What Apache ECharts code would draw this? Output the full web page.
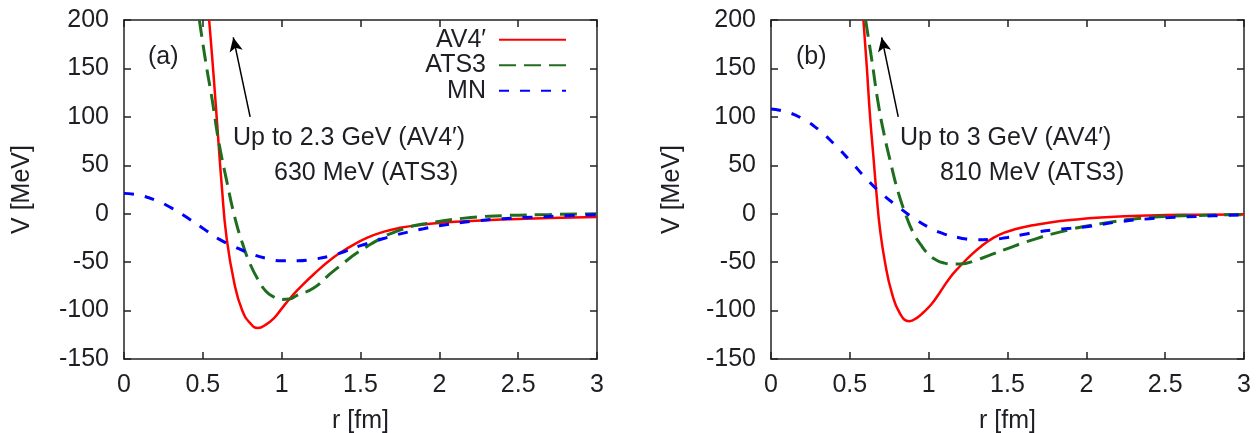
<!DOCTYPE html>
<html>
<head>
<meta charset="utf-8">
<script src="https://cdn.jsdelivr.net/npm/echarts@6/dist/echarts.min.js"></script>
<style>
html,body{margin:0;padding:0;background:#fff;}
#chart{width:1257px;height:433px;}
</style>
</head>
<body>
<div id="chart"></div>
<script>
// ---- Data ----
const xTicks = [0, 0.5, 1, 1.5, 2, 2.5, 3];
const yTicks = [-150, -100, -50, 0, 50, 100, 150, 200];
const seriesNames = ['AV4\u2032', 'ATS3', 'MN'];

// Panel (a)
const rA_AV4 = [0.54, 0.56, 0.58, 0.60, 0.62, 0.65, 0.70, 0.75, 0.80, 0.85, 0.90, 0.95, 1.00, 1.05, 1.10, 1.20, 1.33, 1.43, 1.54, 1.65, 1.75, 1.86, 1.96, 2.20, 2.40, 2.70, 3.00];
const vA_AV4 = [200, 160, 117, 72, 29, -24, -72, -100, -113, -118, -114.5, -108, -98, -88, -79, -63, -45, -34.5, -25, -18.5, -14.5, -12, -10, -7.5, -6, -4.5, -3.5];
const rA_ATS3 = [0.478, 0.52, 0.56, 0.60, 0.65, 0.70, 0.75, 0.80, 0.85, 0.90, 0.95, 1.00, 1.05, 1.10, 1.20, 1.33, 1.54, 1.75, 1.96, 2.20, 2.40, 2.70, 3.00];
const vA_ATS3 = [200, 155, 117, 75, 35, -2, -30, -52, -68, -80, -86, -88.5, -88, -84, -77, -59, -34, -17, -9, -4, -2, -0.8, 0];
const rA_MN = [0, 0.1, 0.2, 0.3, 0.4, 0.5, 0.6, 0.7, 0.8, 0.9, 1.0, 1.1, 1.2, 1.3, 1.4, 1.5, 1.6, 1.7, 1.8, 1.9, 2.0, 2.2, 2.4, 2.6, 2.8, 3.0];
const vA_MN = [21, 19, 14, 6, -4, -15, -26, -34, -41, -46, -48.5, -48.5, -47, -44, -39, -33, -28, -23, -19, -15.5, -12.5, -8, -5.2, -3.5, -2.2, -1];

// Panel (b)
const rB_AV4 = [0.586, 0.607, 0.628, 0.649, 0.670, 0.691, 0.723, 0.765, 0.818, 0.877, 0.93, 0.966, 1.02, 1.072, 1.135, 1.20, 1.26, 1.33, 1.41, 1.48, 1.56, 1.66, 1.77, 1.90, 2.09, 2.40, 2.70, 3.00];
const vB_AV4 = [200, 153, 101, 60, 19, -15.5, -50, -81, -103, -111, -107, -102, -93, -81, -66, -54, -44, -34, -25, -19.5, -15.5, -12, -9, -6.5, -4, -1.8, -1, -0.7];
const rB_ATS3 = [0.60, 0.64, 0.68, 0.72, 0.76, 0.80, 0.85, 0.90, 0.95, 1.00, 1.05, 1.10, 1.15, 1.20, 1.30, 1.40, 1.50, 1.62, 1.83, 2.09, 2.40, 2.70, 3.00];
const vB_ATS3 = [200, 158, 114, 80, 52, 26, 1, -19, -32, -42, -48, -51, -52, -52, -48, -42, -36, -29, -19, -10.3, -4, -1.8, -1];
const rB_MN = [0, 0.1, 0.2, 0.3, 0.4, 0.5, 0.6, 0.7, 0.8, 0.9, 1.0, 1.1, 1.2, 1.3, 1.4, 1.5, 1.6, 1.7, 1.8, 1.9, 2.0, 2.2, 2.4, 2.6, 2.8, 3.0];
const vB_MN = [108, 105, 98, 87, 72, 55, 37, 21, 8, -4, -14, -21, -25, -27, -26.5, -24.5, -21.5, -18.5, -16.5, -15, -13.5, -8.5, -5.2, -3.5, -2.2, -1];

// Annotation arrows (tail -> head), in data coordinates
const arrowA = [[0.80, 100], [0.693, 182]];
const arrowB = [[0.807, 100], [0.702, 182]];
const annotA = ['Up to 2.3 GeV (AV4\u2032)', '630 MeV (ATS3)', '(a)'];
const annotB = ['Up to 3 GeV (AV4\u2032)', '810 MeV (ATS3)', '(b)'];

// ---- Chart ----
const zip = (r, v) => r.map((x, i) => [x, v[i]]);
const FONT = "'Liberation Sans', Arial, Helvetica, sans-serif";
const TXT = '#1e1e24';
const FS = 25;

function xAxes(g) {
  return [
    {gridIndex: g, type: 'value', position: 'bottom', min: xTicks[0], max: xTicks[xTicks.length-1], interval: 0.5,
     name: 'r [fm]', nameLocation: 'middle', nameGap: 50,
     nameTextStyle: {fontFamily: FONT, fontSize: FS, color: TXT},
     axisLine: {show: true, onZero: false, lineStyle: {color: '#222', width: 1.5}},
     axisTick: {show: true, inside: true, length: 7, lineStyle: {color: '#222', width: 1.5}},
     axisLabel: {fontFamily: FONT, fontSize: FS, color: TXT, margin: 14},
     splitLine: {show: false}},
    {gridIndex: g, type: 'value', position: 'top', min: xTicks[0], max: xTicks[xTicks.length-1], interval: 0.5,
     axisLine: {show: true, onZero: false, lineStyle: {color: '#222', width: 1.5}},
     axisTick: {show: true, inside: true, length: 7, lineStyle: {color: '#222', width: 1.5}},
     axisLabel: {show: false}, splitLine: {show: false}}
  ];
}
function yAxes(g, gap) {
  return [
    {gridIndex: g, type: 'value', position: 'left', min: yTicks[0], max: yTicks[yTicks.length-1], interval: 50,
     name: 'V [MeV]', nameLocation: 'middle', nameGap: gap, nameRotate: 90,
     nameTextStyle: {fontFamily: FONT, fontSize: FS, color: TXT},
     axisLine: {show: true, onZero: false, lineStyle: {color: '#222', width: 1.5}},
     axisTick: {show: true, inside: true, length: 7, lineStyle: {color: '#222', width: 1.5}},
     axisLabel: {fontFamily: FONT, fontSize: FS, color: TXT, margin: 15},
     splitLine: {show: false}},
    {gridIndex: g, type: 'value', position: 'right', min: yTicks[0], max: yTicks[yTicks.length-1], interval: 50,
     axisLine: {show: true, onZero: false, lineStyle: {color: '#222', width: 1.5}},
     axisTick: {show: true, inside: true, length: 7, lineStyle: {color: '#222', width: 1.5}},
     axisLabel: {show: false}, splitLine: {show: false}}
  ];
}

const styles = [
  {color: '#ff0000', width: 2.5, type: 'solid'},
  {color: '#1f6e1f', width: 3, type: [17, 8]},
  {color: '#0000ff', width: 3, type: [10, 11]}
];

function mkSeries(g, name, data, st, arrow) {
  const s = {
    type: 'line', name: name, xAxisIndex: 2*g, yAxisIndex: 2*g,
    data: data, symbol: 'none', showSymbol: false, smooth: 0.5, clip: true,
    lineStyle: {color: st.color, width: st.width, type: st.type},
    itemStyle: {color: st.color},
    emphasis: {disabled: true}, animation: false
  };
  if (arrow) {
    s.markLine = {
      silent: true, animation: false,
      symbol: ['none', 'arrow'], symbolSize: [10, 14],
      label: {show: false},
      lineStyle: {color: '#000', width: 1.5, type: 'solid'},
      data: [[{coord: arrow[0]}, {coord: arrow[1]}]]
    };
  }
  return s;
}

function txt(x, y, s) {
  return {type: 'text', left: x, top: y, style: {text: s, font: FS + 'px ' + FONT, fill: TXT}};
}

const option = {
  backgroundColor: '#fff',
  animation: false,
  grid: [
    {left: 124, right: 660, top: 20, bottom: 74, containLabel: false, outerBoundsMode: 'none'},
    {left: 771, right: 13, top: 20, bottom: 74, containLabel: false, outerBoundsMode: 'none'}
  ],
  xAxis: [...xAxes(0), ...xAxes(1)],
  yAxis: [...yAxes(0, 89), ...yAxes(1, 86)],
  legend: {
    data: seriesNames, orient: 'vertical', align: 'right',
    right: 690, top: 27, padding: 0,
    itemWidth: 67, itemHeight: 14, itemGap: 0,
    itemStyle: {color: 'rgba(0,0,0,0)', borderWidth: 0, opacity: 0},
    textStyle: {fontFamily: FONT, fontSize: FS, color: TXT, lineHeight: 25.5, padding: [0, 8, 0, 0]},
    selectedMode: false
  },
  series: [
    mkSeries(0, seriesNames[0], zip(rA_AV4, vA_AV4), styles[0], arrowA),
    mkSeries(0, seriesNames[1], zip(rA_ATS3, vA_ATS3), styles[1]),
    mkSeries(0, seriesNames[2], zip(rA_MN, vA_MN), styles[2]),
    mkSeries(1, seriesNames[0], zip(rB_AV4, vB_AV4), styles[0], arrowB),
    mkSeries(1, seriesNames[1], zip(rB_ATS3, vB_ATS3), styles[1]),
    mkSeries(1, seriesNames[2], zip(rB_MN, vB_MN), styles[2])
  ],
  graphic: [
    txt(233, 125.5, annotA[0]), txt(274, 160.5, annotA[1]), txt(148, 44.5, annotA[2]),
    txt(900, 125.5, annotB[0]), txt(940, 160.5, annotB[1]), txt(796, 44.5, annotB[2])
  ]
};

const chart = echarts.init(document.getElementById('chart'), null, {renderer: 'canvas'});
chart.setOption(option);
</script>
</body>
</html>
